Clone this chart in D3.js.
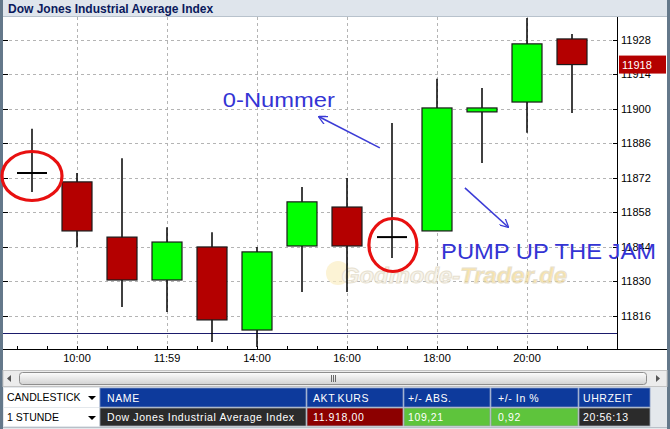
<!DOCTYPE html>
<html><head><meta charset="utf-8">
<script src="https://cdn.jsdelivr.net/npm/d3@7"></script>
<style>html,body{margin:0;padding:0;background:#fff;}svg{display:block;font-family:Arial,"Liberation Sans",sans-serif;}</style>
</head><body>
<svg id="c" width="670" height="429"></svg>
<script>
// ---------- data ----------
const title = "Dow Jones Industrial Average Index";
const candleIndex = [0,1,2,3,4,5,6,7,8,9,10,11,12];
const opens  = [11874, 11870.4, 11848, 11830.6, 11844, 11810.3, 11844.4, 11860.2, 11848, 11850.5, 11898.8, 11902.8, 11928.4];
const highs  = [11892, 11874, 11880, 11852, 11850, 11844, 11868.3, 11872, 11894.3, 11912.2, 11908.5, 11936.9, 11930.4];
const lows   = [11866.3, 11844, 11819.6, 11817.6, 11805.4, 11803.4, 11825.7, 11825.7, 11839.5, 11850.5, 11878.1, 11890.3, 11898.4];
const closes = [11874, 11850.5, 11830.6, 11846, 11814.4, 11842, 11862.3, 11844.4, 11848, 11900.4, 11900.4, 11926.4, 11918];
const xTickIndex = [1,3,5,7,9,11];
const xTickLabels = ["10:00","11:59","14:00","16:00","18:00","20:00"];
const yTicks = [11816,11830,11844,11858,11872,11886,11900,11914,11928];
const refLine = 11809;
const lastPrice = 11918;
const tableHeaders = ["NAME","AKT.KURS","+/- ABS.","+/- In %","UHRZEIT"];
const tableValues = ["Dow Jones Industrial Average Index","11.918,00","109,21","0,92","20:56:13"];
const selectors = ["CANDLESTICK","1 STUNDE"];
// annotations in data coordinates [index, value]
const circles = [[0, 11872.8], [8.02, 11844.8]];
const arrows = [[[7.73, 11884.2],[6.38, 11896.8]], [[9.62, 11868],[10.58, 11852.1]]];
const notes = [{t:"0-Nummer", p:[4.24, 11900.8]}, {t:"PUMP UP THE JAM", p:[9.09, 11839.1]}];

// ---------- layout ----------
const svg = d3.select("#c");
const W = 670, H = 429;
const plotL = 3, plotR = 617, plotT = 17, plotB = 349;
const x = d3.scaleLinear().domain([0,12]).range([32,572]);
const y = d3.scaleLinear().domain([11802.6, 11937.3]).range([plotB, plotT]);

const defs = svg.append("defs");
const g1 = defs.append("linearGradient").attr("id","thumb").attr("x1",0).attr("x2",0).attr("y1",0).attr("y2",1);
g1.append("stop").attr("offset","0%").attr("stop-color","#fdfdfd");
g1.append("stop").attr("offset","100%").attr("stop-color","#d2d2d2");
defs.append("marker").attr("id","ah").attr("viewBox","0 0 10 10").attr("refX",9).attr("refY",5)
  .attr("markerWidth",9).attr("markerHeight",9).attr("markerUnits","userSpaceOnUse").attr("orient","auto")
  .append("path").attr("d","M0,0 L10,5 L0,10").attr("fill","none").attr("stroke","#3b3bd6").attr("stroke-width",1.4);

// background & borders
svg.append("rect").attr("width",W).attr("height",H).attr("fill","#fff");
svg.append("rect").attr("x",0).attr("y",0).attr("width",3).attr("height",H).attr("fill","#64788a");
svg.append("rect").attr("x",667).attr("y",0).attr("width",3).attr("height",H).attr("fill","#64788a");

// title bar
svg.append("rect").attr("x",3).attr("y",0).attr("width",664).attr("height",16).attr("fill","#dfe5ec");
svg.append("line").attr("x1",3).attr("x2",667).attr("y1",16.5).attr("y2",16.5).attr("stroke","#b8c2cc");
svg.append("text").attr("x",8).attr("y",12.5).attr("font-size",12).attr("font-weight","bold").attr("fill","#0b1a5c").text(title);

// grid
const grid = svg.append("g");
grid.selectAll(".hg").data(yTicks).join("line")
  .attr("x1",plotL).attr("x2",plotR).attr("y1",d=>Math.round(y(d))+0.5).attr("y2",d=>Math.round(y(d))+0.5)
  .attr("stroke","#b4b4b4").attr("stroke-dasharray","3,3");
grid.selectAll(".vg").data(xTickIndex).join("line")
  .attr("x1",d=>Math.round(x(d))+0.5).attr("x2",d=>Math.round(x(d))+0.5).attr("y1",plotT).attr("y2",plotB)
  .attr("stroke","#b4b4b4").attr("stroke-dasharray","3,3");
// left small ticks
grid.selectAll(".lt").data(yTicks).join("line")
  .attr("x1",plotL).attr("x2",plotL+5).attr("y1",d=>Math.round(y(d))+0.5).attr("y2",d=>Math.round(y(d))+0.5)
  .attr("stroke","#000");

// watermark
const wm = svg.append("g").attr("opacity",0.7);
wm.append("circle").attr("cx",338).attr("cy",273).attr("r",12).attr("fill","#fbeec4");
wm.append("text").attr("x",341).attr("y",283).attr("font-size",22).attr("font-weight","bold").attr("font-style","italic")
  .attr("textLength",226).attr("lengthAdjust","spacingAndGlyphs")
  .attr("stroke","#ddd4bc").attr("stroke-width",1)
  .selectAll("tspan").data([["Godmode-","#f4f0e4"],["Trader.de","#f6d98a"]]).join("tspan").attr("fill",d=>d[1]).text(d=>d[0]);

// reference line
svg.append("line").attr("x1",plotL).attr("x2",plotR).attr("y1",Math.round(y(refLine))+0.5).attr("y2",Math.round(y(refLine))+0.5)
  .attr("stroke","#1b1b6b").attr("stroke-width",1.2);

// candles
const candles = candleIndex.map(i=>({i,o:opens[i],h:highs[i],l:lows[i],c:closes[i]}));
const cg = svg.append("g");
cg.selectAll(".wick").data(candles).join("line")
  .attr("x1",d=>x(d.i)).attr("x2",d=>x(d.i)).attr("y1",d=>y(d.h)).attr("y2",d=>y(d.l))
  .attr("stroke","#000").attr("stroke-width",1.5);
const bw = 30;
cg.selectAll(".body").data(candles.filter(d=>d.o!==d.c)).join("rect")
  .attr("x",d=>x(d.i)-bw/2).attr("width",bw)
  .attr("y",d=>y(Math.max(d.o,d.c))).attr("height",d=>Math.abs(y(d.o)-y(d.c)))
  .attr("fill",d=>d.c>d.o?"#00ff00":"#b40000").attr("stroke","#1a1a1a").attr("stroke-width",1.2);
cg.selectAll(".doji").data(candles.filter(d=>d.o===d.c)).join("line")
  .attr("x1",d=>x(d.i)-15).attr("x2",d=>x(d.i)+15).attr("y1",d=>y(d.o)).attr("y2",d=>y(d.o))
  .attr("stroke","#000").attr("stroke-width",2);

// annotations
svg.selectAll(".circ").data(circles).join("ellipse")
  .attr("cx",(d,i)=>x(d[0])).attr("cy",d=>y(d[1])).attr("rx",(d,i)=>i===0?30:24).attr("ry",(d,i)=>i===0?24.5:26.5)
  .attr("fill","none").attr("stroke","#e81010").attr("stroke-width",3.2);
svg.selectAll(".arr").data(arrows).join("line")
  .attr("x1",d=>x(d[0][0])).attr("y1",d=>y(d[0][1])).attr("x2",d=>x(d[1][0])).attr("y2",d=>y(d[1][1]))
  .attr("stroke","#3b3bd6").attr("stroke-width",1.6).attr("marker-end","url(#ah)");

// axes
svg.append("line").attr("x1",plotR+0.5).attr("x2",plotR+0.5).attr("y1",plotT).attr("y2",plotB+1).attr("stroke","#000");
svg.append("line").attr("x1",plotL).attr("x2",667).attr("y1",plotB+0.5).attr("y2",plotB+0.5).attr("stroke","#000");
svg.selectAll(".yt").data(yTicks).join("line")
  .attr("x1",plotR-4).attr("x2",plotR).attr("y1",d=>Math.round(y(d))+0.5).attr("y2",d=>Math.round(y(d))+0.5).attr("stroke","#000");
svg.selectAll(".yl").data(yTicks).join("text")
  .attr("x",621).attr("y",d=>y(d)+4).attr("font-size",11).attr("fill","#000").text(d=>d);
const minor = d3.range(-1/3, 13.01, 2/3);
svg.selectAll(".xt").data(minor).join("line")
  .attr("x1",d=>Math.round(x(d))+0.5).attr("x2",d=>Math.round(x(d))+0.5).attr("y1",plotB-3).attr("y2",plotB)
  .attr("stroke","#000");
svg.selectAll(".xl").data(xTickIndex).join("text")
  .attr("x",d=>x(d)).attr("y",362).attr("text-anchor","middle").attr("font-size",11).attr("fill","#000")
  .text((d,i)=>xTickLabels[i]);

// notes drawn over the axis labels, as in the reference
svg.selectAll(".note").data(notes).join("text")
  .attr("x",d=>x(d.p[0])).attr("y",d=>y(d.p[1])).attr("fill","#3434d4")
  .attr("font-size",(d,i)=>i===0?20:22)
  .attr("textLength",(d,i)=>i===0?112:215).attr("lengthAdjust","spacingAndGlyphs")
  .text(d=>d.t);

// last price label
svg.append("rect").attr("x",619).attr("y",y(lastPrice)-9).attr("width",47).attr("height",18).attr("fill","#b40000");
svg.append("text").attr("x",622).attr("y",y(lastPrice)+4.5).attr("font-size",11).attr("fill","#fff").text(lastPrice);

// scrollbar
svg.append("rect").attr("x",3).attr("y",370.5).attr("width",664).attr("height",16).attr("fill","#ececec").attr("stroke","#c4c4c4");
svg.append("path").attr("d","M11,375 L7,378.5 L11,382 Z").attr("fill","#555");
svg.append("path").attr("d","M656,375 L660,378.5 L656,382 Z").attr("fill","#555");
svg.append("rect").attr("x",19.5).attr("y",372.5).attr("width",627).attr("height",12).attr("rx",3).attr("fill","url(#thumb)").attr("stroke","#8e8e8e");
svg.selectAll(".grip").data([-2,0,2]).join("line")
  .attr("x1",d=>333.5+d).attr("x2",d=>333.5+d).attr("y1",375).attr("y2",382).attr("stroke","#6a6a6a");

// table
svg.append("rect").attr("x",3).attr("y",387).attr("width",664).attr("height",42).attr("fill","#e4e8ec");
const cols = [[100,306],[307,403],[404,490],[491,578],[579,650]];
const row1 = [388,407], row2 = [408,426];
const valFills = ["#2b2b2b","#8c0000","#5ec43c","#5ec43c","#2b2b2b"];
const colX = [107,313,408,498,583];
const tb = svg.append("g").attr("font-size",10.5);
selectors.forEach((s,i)=>{
  const r = i===0?row1:row2;
  tb.append("rect").attr("x",4).attr("y",r[0]).attr("width",95).attr("height",r[1]-r[0]).attr("fill","#fff");
  tb.append("text").attr("x",7).attr("y",r[0]+13).attr("fill","#000").text(s);
  tb.append("path").attr("d",`M88,${r[0]+8} L96,${r[0]+8} L92,${r[0]+12} Z`).attr("fill","#000");
});
tableHeaders.forEach((h,i)=>{
  tb.append("rect").attr("x",cols[i][0]).attr("y",row1[0]).attr("width",cols[i][1]-cols[i][0]).attr("height",row1[1]-row1[0]).attr("fill","#0d3a9c").attr("stroke","#7e94c4").attr("stroke-width",0.8);
  tb.append("text").attr("x",colX[i]).attr("y",row1[0]+14).attr("fill","#fff").attr("letter-spacing",0.6).text(h);
  tb.append("rect").attr("x",cols[i][0]).attr("y",row2[0]).attr("width",cols[i][1]-cols[i][0]).attr("height",row2[1]-row2[0]).attr("fill",valFills[i]).attr("stroke","#9aa4ae").attr("stroke-width",0.8);
  tb.append("text").attr("x",colX[i]).attr("y",row2[0]+13).attr("fill","#fff").attr("letter-spacing",0.6).text(tableValues[i]);
});
svg.append("line").attr("x1",3).attr("x2",667).attr("y1",427.5).attr("y2",427.5).attr("stroke","#b8c0c8");
</script>
</body></html>
